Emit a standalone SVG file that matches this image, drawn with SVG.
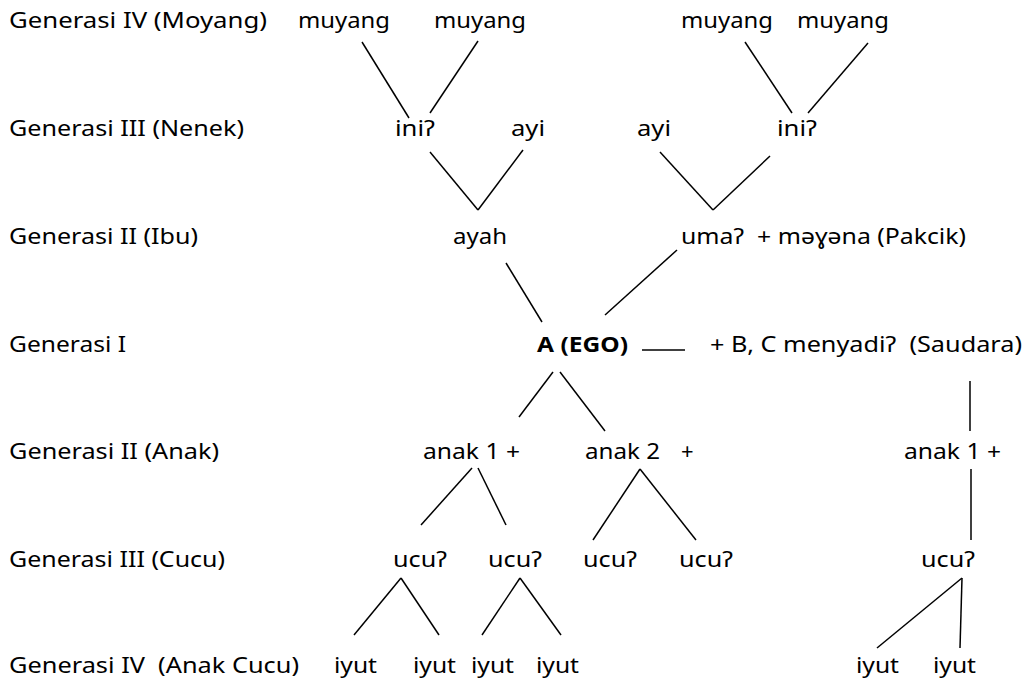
<svg xmlns="http://www.w3.org/2000/svg" width="1029" height="680" viewBox="0 0 1029 680">
  <style>
    text { font-family: "Noto Sans", "DejaVu Sans", sans-serif; font-size: 22px; fill: #000; white-space: pre; }
    .ego { font-weight: bold; }
    .link { stroke: #000; stroke-width: 1.5; fill: none; stroke-linecap: butt; }
  </style>
  <rect width="1029" height="680" fill="#fff"/>

  <!-- generation labels -->
  <g id="gen-labels">
    <text x="9" y="28" textLength="258" lengthAdjust="spacingAndGlyphs">Generasi IV (Moyang)</text>
    <text x="9" y="136" textLength="235" lengthAdjust="spacingAndGlyphs">Generasi III (Nenek)</text>
    <text x="9" y="244" textLength="189" lengthAdjust="spacingAndGlyphs">Generasi II (Ibu)</text>
    <text x="9" y="352" textLength="117" lengthAdjust="spacingAndGlyphs">Generasi I</text>
    <text x="9" y="459" textLength="210" lengthAdjust="spacingAndGlyphs">Generasi II (Anak)</text>
    <text x="9" y="567" textLength="216" lengthAdjust="spacingAndGlyphs">Generasi III (Cucu)</text>
    <text x="9" y="673" textLength="290" lengthAdjust="spacingAndGlyphs">Generasi IV  (Anak Cucu)</text>
  </g>

  <!-- generation IV (ancestors) -->
  <g id="muyang-1"><text x="298" y="28" textLength="92" lengthAdjust="spacingAndGlyphs">muyang</text></g>
  <g id="muyang-2"><text x="434" y="28" textLength="92" lengthAdjust="spacingAndGlyphs">muyang</text></g>
  <g id="muyang-3"><text x="681" y="28" textLength="92" lengthAdjust="spacingAndGlyphs">muyang</text></g>
  <g id="muyang-4"><text x="797" y="28" textLength="92" lengthAdjust="spacingAndGlyphs">muyang</text></g>

  <!-- generation III (grandparents) -->
  <g id="ini-left"><text x="395" y="136" textLength="40" lengthAdjust="spacingAndGlyphs">iniʔ</text></g>
  <g id="ayi-left"><text x="511" y="136" textLength="34" lengthAdjust="spacingAndGlyphs">ayi</text></g>
  <g id="ayi-right"><text x="637" y="136" textLength="34" lengthAdjust="spacingAndGlyphs">ayi</text></g>
  <g id="ini-right"><text x="777" y="136" textLength="40" lengthAdjust="spacingAndGlyphs">iniʔ</text></g>

  <!-- generation II (parents) -->
  <g id="ayah"><text x="453" y="244" textLength="54" lengthAdjust="spacingAndGlyphs">ayah</text></g>
  <g id="uma"><text x="681" y="244" textLength="285" lengthAdjust="spacingAndGlyphs">umaʔ  + məɣəna (Pakcik)</text></g>

  <!-- generation I -->
  <g id="ego"><text class="ego" x="537" y="352" textLength="91" lengthAdjust="spacingAndGlyphs">A (EGO)</text></g>
  <g id="saudara"><text x="710" y="352" textLength="312" lengthAdjust="spacingAndGlyphs">+ B, C menyadiʔ  (Saudara)</text></g>

  <!-- children -->
  <g id="anak-1"><text x="423" y="459" textLength="97" lengthAdjust="spacingAndGlyphs">anak 1 +</text></g>
  <g id="anak-2"><text x="585" y="459" textLength="75" lengthAdjust="spacingAndGlyphs">anak 2</text><text x="681" y="459">+</text></g>
  <g id="anak-1-saudara"><text x="904" y="459" textLength="97" lengthAdjust="spacingAndGlyphs">anak 1 +</text></g>

  <!-- grandchildren -->
  <g id="ucu-1"><text x="393" y="567" textLength="54" lengthAdjust="spacingAndGlyphs">ucuʔ</text></g>
  <g id="ucu-2"><text x="488" y="567" textLength="54" lengthAdjust="spacingAndGlyphs">ucuʔ</text></g>
  <g id="ucu-3"><text x="583" y="567" textLength="54" lengthAdjust="spacingAndGlyphs">ucuʔ</text></g>
  <g id="ucu-4"><text x="679" y="567" textLength="54" lengthAdjust="spacingAndGlyphs">ucuʔ</text></g>
  <g id="ucu-5"><text x="921" y="567" textLength="54" lengthAdjust="spacingAndGlyphs">ucuʔ</text></g>

  <!-- great-grandchildren -->
  <g id="iyut-1"><text x="334" y="673" textLength="43" lengthAdjust="spacingAndGlyphs">iyut</text></g>
  <g id="iyut-2"><text x="413" y="673" textLength="43" lengthAdjust="spacingAndGlyphs">iyut</text></g>
  <g id="iyut-3"><text x="471" y="673" textLength="43" lengthAdjust="spacingAndGlyphs">iyut</text></g>
  <g id="iyut-4"><text x="536" y="673" textLength="43" lengthAdjust="spacingAndGlyphs">iyut</text></g>
  <g id="iyut-5"><text x="856" y="673" textLength="43" lengthAdjust="spacingAndGlyphs">iyut</text></g>
  <g id="iyut-6"><text x="933" y="673" textLength="43" lengthAdjust="spacingAndGlyphs">iyut</text></g>

  <!-- connectors -->
  <g id="connectors" class="link">
    <line class="link" x1="362" y1="42" x2="409" y2="118"/>
    <line class="link" x1="478" y1="41" x2="430" y2="113"/>
    <line class="link" x1="745" y1="42" x2="792" y2="113"/>
    <line class="link" x1="868" y1="43" x2="808" y2="113"/>

    <line class="link" x1="430" y1="152" x2="478" y2="210"/>
    <line class="link" x1="523" y1="150" x2="478" y2="210"/>
    <line class="link" x1="660" y1="152" x2="713" y2="210"/>
    <line class="link" x1="770" y1="156" x2="713" y2="210"/>

    <line class="link" x1="506" y1="263" x2="542" y2="322"/>
    <line class="link" x1="677" y1="250" x2="605" y2="315"/>
    <line class="link" x1="642" y1="350" x2="685" y2="350"/>

    <line class="link" x1="553" y1="372" x2="519" y2="417"/>
    <line class="link" x1="560" y1="372" x2="605" y2="431"/>
    <line class="link" x1="970" y1="381" x2="970" y2="431"/>

    <line class="link" x1="472" y1="468" x2="421" y2="525"/>
    <line class="link" x1="478" y1="468" x2="506" y2="525"/>
    <line class="link" x1="640" y1="469" x2="593" y2="540"/>
    <line class="link" x1="640" y1="469" x2="696" y2="540"/>
    <line class="link" x1="971" y1="469" x2="971" y2="540"/>

    <line class="link" x1="401" y1="578" x2="354" y2="635"/>
    <line class="link" x1="401" y1="578" x2="439" y2="635"/>
    <line class="link" x1="520" y1="578" x2="482" y2="635"/>
    <line class="link" x1="520" y1="578" x2="561" y2="635"/>
    <line class="link" x1="962" y1="578" x2="877" y2="648"/>
    <line class="link" x1="962" y1="578" x2="960" y2="648"/>
  </g>
</svg>
